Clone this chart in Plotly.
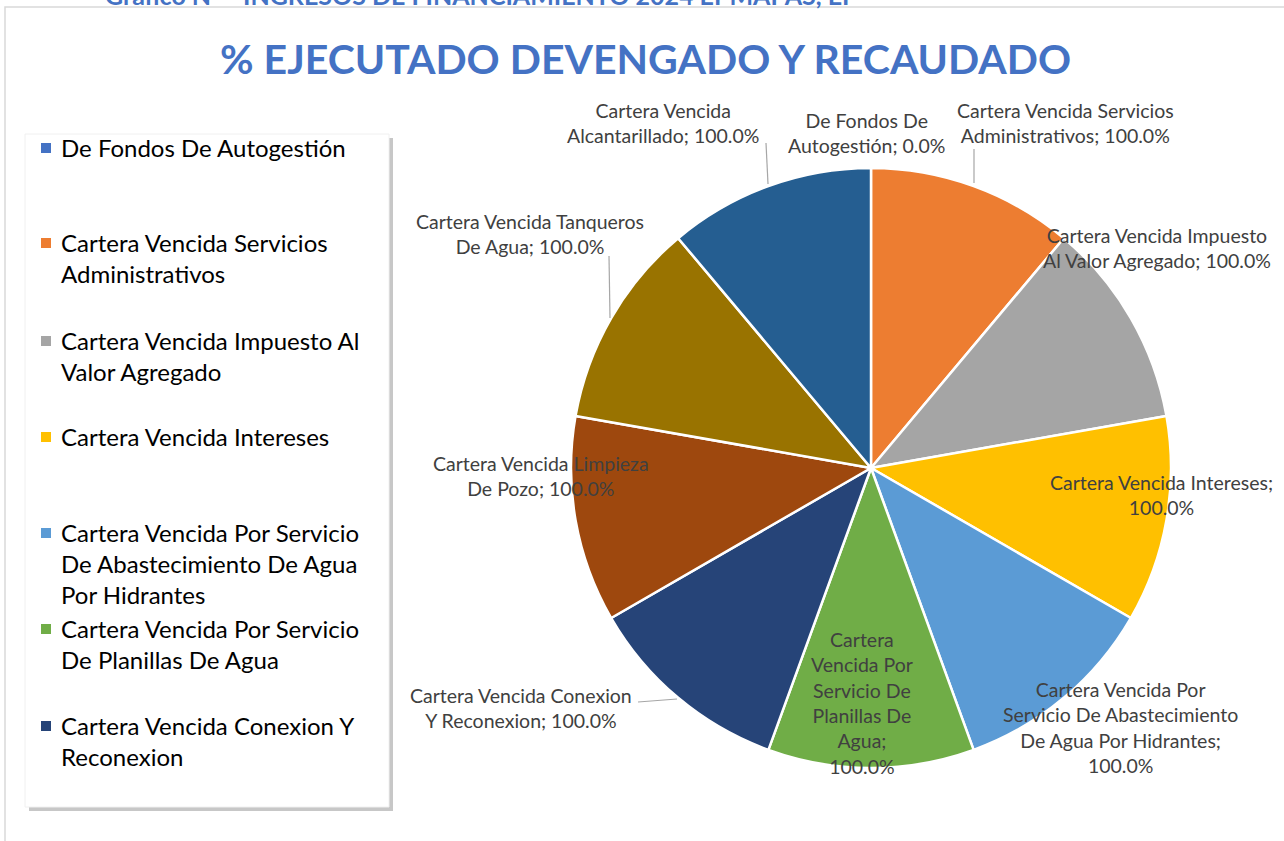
import plotly.graph_objects as go

# ---------------- data ----------------
categories = [
    "De Fondos De Autogestión",
    "Cartera Vencida Servicios Administrativos",
    "Cartera Vencida Impuesto Al Valor Agregado",
    "Cartera Vencida Intereses",
    "Cartera Vencida Por Servicio De Abastecimiento De Agua Por Hidrantes",
    "Cartera Vencida Por Servicio De Planillas De Agua",
    "Cartera Vencida Conexion Y Reconexion",
    "Cartera Vencida Limpieza De Pozo",
    "Cartera Vencida Tanqueros De Agua",
    "Cartera Vencida Alcantarillado",
]
pct_executed = [0.0, 100.0, 100.0, 100.0, 100.0, 100.0, 100.0, 100.0, 100.0, 100.0]
title_text = "% EJECUTADO DEVENGADO Y RECAUDADO"
caption_text = "Gráfico N° - INGRESOS DE FINANCIAMIENTO 2024 EPMAPAS, EP"

# ---------------- styles / layout ----------------
colors = ["#4472C4", "#ED7D31", "#A5A5A5", "#FFC000", "#5B9BD5",
          "#70AD47", "#264478", "#9E480E", "#997300", "#255E91"]
W, H = 1284, 841
FONT = "Lato"

def px(x):
    return x / W

def py(y):
    return 1 - y / H

# data-label wrapping (words per line) and centre positions in pixels
label_words = [[3, 2], [3, 2], [3, 4], [3, 1], [3, 3, 4, 1],
               [1, 2, 2, 2, 1, 1], [3, 3], [3, 3], [3, 3], [2, 2]]
label_pos = [(866, 133), (1065, 123), (1157, 248), (1161, 495), (1120, 727),
             (862, 703), (521, 708), (541, 476), (530, 234), (663, 123)]
leader_lines = [((766, 143), (768, 184)), ((609, 256), (610, 318)),
                ((974, 149), (974, 183)), ((638, 702), (677, 699))]

# legend (first 7 entries visible) wrapping and first-line centre y
legend_words = [[4], [3, 1], [4, 2], [3], [4, 4, 2], [4, 4], [4, 1]]
legend_y = [148, 243, 341, 437, 533, 629, 726]


def wrap(text, counts):
    words = text.split(" ")
    lines, i = [], 0
    for c in counts:
        lines.append(" ".join(words[i:i + c]))
        i += c
    if i < len(words):
        lines[-1] += " " + " ".join(words[i:])
    return "<br>".join(lines)


fig = go.Figure()
fig.add_trace(go.Pie(
    labels=categories,
    values=pct_executed,
    sort=False,
    direction="clockwise",
    rotation=0,
    marker=dict(colors=colors, line=dict(color="white", width=2.5)),
    textinfo="none",
    hoverinfo="label+value",
    showlegend=False,
    domain=dict(x=[px(571), px(1171)], y=[py(768), py(168)]),
))

annotations = []
shapes = []

# chart border
shapes.append(dict(type="path", xref="paper", yref="paper",
                   path=f"M {px(5)},{py(845)} L {px(5)},{py(7)} L {px(1290)},{py(7)}",
                   line=dict(color="#D9D9D9", width=1.5)))

# title & caption
annotations.append(dict(text=f"<b>{title_text}</b>", x=px(645), y=py(58),
                        xref="paper", yref="paper", showarrow=False,
                        xanchor="center", yanchor="middle",
                        font=dict(family=FONT, size=41, color="#4472C4")))
annotations.append(dict(text=f"<b>{caption_text}</b>", x=px(481), y=py(-5),
                        xref="paper", yref="paper", showarrow=False,
                        xanchor="center", yanchor="middle",
                        font=dict(family=FONT, size=25, color="#4472C4")))

# data labels
for name, v, words, (lx, ly) in zip(categories, pct_executed, label_words, label_pos):
    txt = wrap(f"{name}; {v:.1f}%", words)
    annotations.append(dict(text=txt, x=px(lx), y=py(ly), xref="paper", yref="paper",
                            showarrow=False, xanchor="center", yanchor="middle",
                            align="center",
                            font=dict(family=FONT, size=19.5, color="#404040")))
for (x0, y0), (x1, y1) in leader_lines:
    shapes.append(dict(type="line", xref="paper", yref="paper",
                       x0=px(x0), y0=py(y0), x1=px(x1), y1=py(y1),
                       line=dict(color="#A6A6A6", width=1.2)))

# legend box with shadow
shapes.append(dict(type="rect", xref="paper", yref="paper",
                   x0=px(29), y0=py(138), x1=px(393), y1=py(811),
                   fillcolor="rgba(0,0,0,0.22)", line=dict(width=0), layer="above"))
shapes.append(dict(type="rect", xref="paper", yref="paper",
                   x0=px(25), y0=py(134), x1=px(389), y1=py(807),
                   fillcolor="white", line=dict(color="#F0F0F0", width=1), layer="above"))
for name, col, words, ly in zip(categories, colors, legend_words, legend_y):
    shapes.append(dict(type="rect", xref="paper", yref="paper",
                       x0=px(41), y0=py(ly - 5), x1=px(51), y1=py(ly + 5),
                       fillcolor=col, line=dict(width=0), layer="above"))
    annotations.append(dict(text=wrap(name, words), x=px(59), y=py(ly - 17),
                            xref="paper", yref="paper", showarrow=False,
                            xanchor="left", yanchor="top", align="left",
                            font=dict(family=FONT, size=24, color="#000000")))

fig.update_layout(
    width=W, height=H,
    margin=dict(l=0, r=0, t=0, b=0),
    paper_bgcolor="white", plot_bgcolor="white",
    annotations=annotations, shapes=shapes,
    showlegend=False,
)

fig.write_html("out.html",
               config={"displayModeBar": False},
               post_script="document.body.style.margin='0px';document.body.style.overflow='hidden';")
